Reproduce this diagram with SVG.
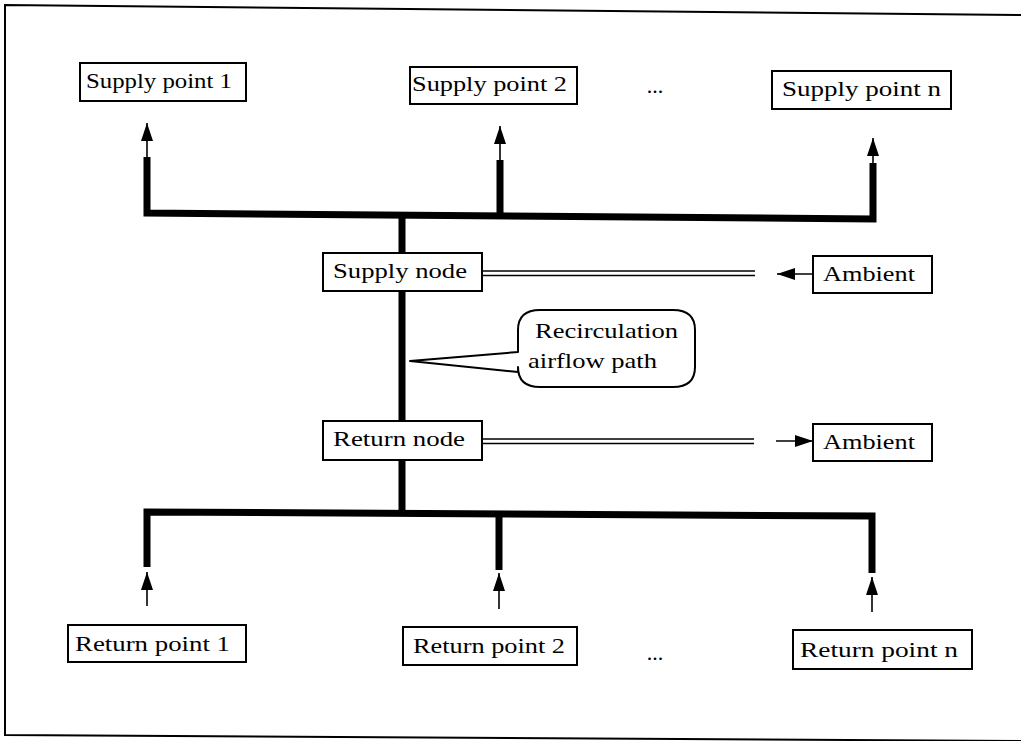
<svg xmlns="http://www.w3.org/2000/svg" width="1021" height="741" viewBox="0 0 1021 741">
<defs>
<marker id="ah" viewBox="0 0 18 12" refX="18" refY="6" markerWidth="18" markerHeight="12" markerUnits="userSpaceOnUse" orient="auto">
<path d="M0,0 L18,6 L0,12 Z" fill="#000"/>
</marker>
<style>
.box{fill:#fff;stroke:#000;stroke-width:2}
.t{font-family:"Liberation Serif","Times New Roman",serif;font-size:22px;fill:#000}
.pipe{fill:none;stroke:#000;stroke-width:7;stroke-linejoin:miter}
.thin{fill:none;stroke:#000;stroke-width:1.6}
.arr{fill:none;stroke:#000;stroke-width:1.6;marker-end:url(#ah)}
</style>
</defs>
<rect width="1021" height="741" fill="#fff"/>
<path d="M1021,15 L5,5 L5,735 L1021,741" fill="none" stroke="#000" stroke-width="2"/>

<g id="connectors">
<polyline class="pipe" points="147,157 147,213 873,219 873,163"/>
<line class="pipe" x1="500" y1="160" x2="500" y2="216"/>
<line class="pipe" x1="402" y1="214" x2="402" y2="514"/>
<polyline class="pipe" points="147,567 147,512 872,516 872,573"/>
<line class="pipe" x1="499" y1="514" x2="499" y2="570"/>
<line class="arr" x1="147" y1="157" x2="147" y2="123"/>
<line class="arr" x1="500" y1="160" x2="500" y2="126"/>
<line class="arr" x1="873" y1="163" x2="873" y2="138"/>
<line class="arr" x1="147" y1="606" x2="147" y2="572"/>
<line class="arr" x1="499" y1="609" x2="499" y2="573"/>
<line class="arr" x1="872" y1="612" x2="872" y2="577"/>
<line class="thin" x1="482" y1="271" x2="755" y2="271"/>
<line class="thin" x1="482" y1="275.5" x2="755" y2="275.5"/>
<line class="thin" x1="482" y1="439" x2="754" y2="439"/>
<line class="thin" x1="482" y1="443.5" x2="754" y2="443.5"/>
<line class="arr" x1="813" y1="274" x2="777" y2="274"/>
<line class="arr" x1="776" y1="441" x2="813" y2="441"/>
</g>

<g id="supply-point-1"><rect class="box" x="80" y="63" width="166" height="38"/><text class="t" x="86" y="88" textLength="146" lengthAdjust="spacingAndGlyphs">Supply point 1</text></g>
<g id="supply-point-2"><rect class="box" x="410" y="67" width="167" height="37"/><text class="t" x="412" y="91" textLength="155" lengthAdjust="spacingAndGlyphs">Supply point 2</text></g>
<g id="supply-dots"><text class="t" x="655" y="93" text-anchor="middle">...</text></g>
<g id="supply-point-n"><rect class="box" x="772" y="71" width="179" height="38"/><text class="t" x="782" y="96" textLength="159" lengthAdjust="spacingAndGlyphs">Supply point n</text></g>

<g id="supply-node"><rect class="box" x="323" y="253" width="159" height="38"/><text class="t" x="333" y="278" textLength="134" lengthAdjust="spacingAndGlyphs">Supply node</text></g>
<g id="ambient-1"><rect class="box" x="813" y="256" width="119" height="37"/><text class="t" x="823" y="281" textLength="92" lengthAdjust="spacingAndGlyphs">Ambient</text></g>

<g id="callout">
<path d="M540,310 H673 Q695,310 695,330 V367 Q695,387 673,387 H540 Q518,387 518,367 V372 L410,361 L518,352 V330 Q518,310 540,310 Z" fill="#fff" stroke="#000" stroke-width="2" stroke-linejoin="round"/>
<text class="t" x="535" y="338" textLength="143" lengthAdjust="spacingAndGlyphs">Recirculation</text>
<text class="t" x="528" y="368" textLength="129" lengthAdjust="spacingAndGlyphs">airflow path</text>
</g>

<g id="return-node"><rect class="box" x="323" y="421" width="159" height="39"/><text class="t" x="333" y="446" textLength="132" lengthAdjust="spacingAndGlyphs">Return node</text></g>
<g id="ambient-2"><rect class="box" x="813" y="424" width="119" height="37"/><text class="t" x="823" y="449" textLength="92" lengthAdjust="spacingAndGlyphs">Ambient</text></g>

<g id="return-point-1"><rect class="box" x="68" y="625" width="178" height="37"/><text class="t" x="75" y="651" textLength="155" lengthAdjust="spacingAndGlyphs">Return point 1</text></g>
<g id="return-point-2"><rect class="box" x="403" y="627" width="174" height="38"/><text class="t" x="413" y="653" textLength="152" lengthAdjust="spacingAndGlyphs">Return point 2</text></g>
<g id="return-dots"><text class="t" x="655" y="660" text-anchor="middle">...</text></g>
<g id="return-point-n"><rect class="box" x="793" y="630" width="179" height="39"/><text class="t" x="800" y="657" textLength="158" lengthAdjust="spacingAndGlyphs">Return point n</text></g>
</svg>
